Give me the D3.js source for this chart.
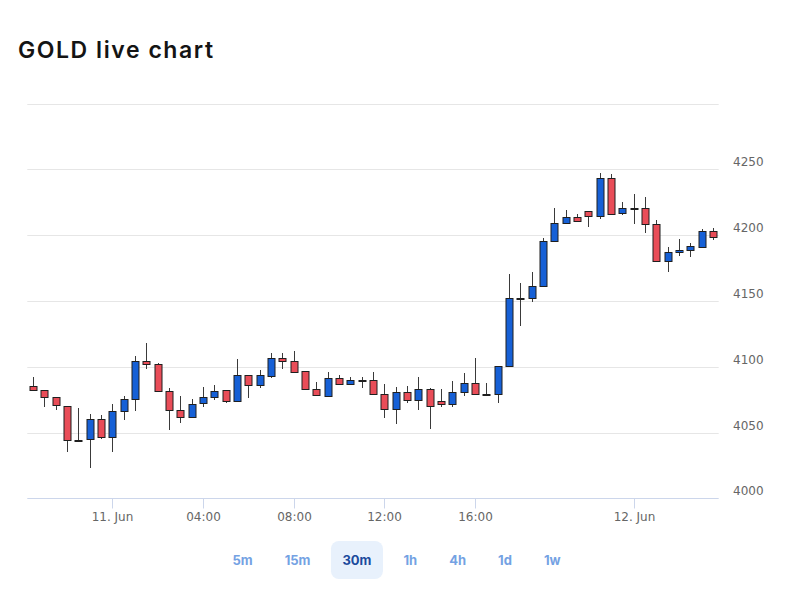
<!DOCTYPE html>
<html><head><meta charset="utf-8">
<script src="https://cdn.jsdelivr.net/npm/d3@7"></script>
<style>html,body{margin:0;padding:0;background:#fff;} svg{display:block}</style>
</head><body>
<svg id="chart" width="793" height="595"></svg>
<script>
const times = [
 "06-10 19:30","06-10 20:00","06-10 20:30","06-10 22:00","06-10 22:30","06-10 23:00","06-10 23:30",
 "06-11 00:00","06-11 00:30","06-11 01:00","06-11 01:30","06-11 02:00","06-11 02:30","06-11 03:00","06-11 03:30",
 "06-11 04:00","06-11 04:30","06-11 05:00","06-11 05:30","06-11 06:00","06-11 06:30","06-11 07:00","06-11 07:30",
 "06-11 08:00","06-11 08:30","06-11 09:00","06-11 09:30","06-11 10:00","06-11 10:30","06-11 11:00","06-11 11:30",
 "06-11 12:00","06-11 12:30","06-11 13:00","06-11 13:30","06-11 14:00","06-11 14:30","06-11 15:00","06-11 15:30",
 "06-11 16:00","06-11 16:30","06-11 17:00","06-11 17:30","06-11 18:00","06-11 18:30","06-11 19:00","06-11 19:30",
 "06-11 20:00","06-11 20:30","06-11 22:00","06-11 22:30","06-11 23:00","06-11 23:30",
 "06-12 00:00","06-12 00:30","06-12 01:00","06-12 01:30","06-12 02:00","06-12 02:30","06-12 03:00","06-12 03:30"
];
const opens = [4085,4082.3,4077,4070,4044.3,4045,4060.3,4046.6,4066.3,4075.5,
 4104.3,4102,4081.5,4067,4061.8,4072.4,4077,4082.3,4074,4093.7,
 4086.1,4093,4106.6,4104.3,4096.7,4083,4077.7,4091.4,4086.9,4089.9,
 4089.9,4079.3,4067.9,4080.8,4074.7,4083,4073.9,4071.7,4080.8,4087.6,
 4079.3,4079.3,4100.5,4152.2,4152.2,4161.3,4195.5,4209.2,4213.8,4218.3,
 4214.5,4243.4,4216.8,4220.6,4220.6,4208.4,4180.3,4187.2,4188.7,4191,
 4203.1];
const highs = [4092,4082.3,4077,4070,4068.6,4064,4063.3,4071.7,4077.7,4108,
 4118,4103,4083.8,4077.7,4075.5,4084.6,4086,4082.3,4105.9,4093.7,
 4097.6,4110.4,4110.4,4111.9,4096.7,4088.4,4095.8,4093.7,4092.2,4092.2,
 4095.8,4086.9,4084.6,4085.3,4092.2,4083.8,4083,4089.1,4095.1,4106.6,
 4087.6,4100.5,4170.4,4163.6,4172,4197.8,4220.6,4219.1,4216,4218.3,
 4247.2,4246.4,4225.2,4231.3,4229,4211.5,4191,4197.1,4194,4204.6,
 4205.3];
const lows = [4082,4069.4,4067,4035.2,4044.3,4023,4044.8,4035.2,4059.5,4066.3,
 4098,4081.5,4052,4057.2,4061.8,4069.4,4074.7,4072.4,4074,4076.2,
 4083.8,4091.4,4098.4,4095.8,4083,4078.5,4077.7,4086.9,4086.9,4083.8,
 4079.3,4061,4056.5,4072.4,4067,4052.7,4069.4,4069.4,4077.7,4079.3,
 4078.5,4072.4,4100.5,4131,4149.2,4161.3,4195.5,4209.2,4210,4206.2,
 4212.2,4215.3,4215.3,4208.4,4201.6,4180.3,4172,4184.2,4183.4,4191,
 4196.4];
const closes = [4082,4077,4071,4044.3,4044.3,4060.3,4046.6,4066.3,4075.5,4104.3,
 4102,4081.5,4067,4061.8,4071.7,4077,4081.5,4074,4093.7,4086.1,
 4093.7,4106.6,4104.3,4095.8,4083,4078.5,4091.4,4086.9,4089.9,4089.9,
 4079.3,4067.9,4080.8,4074.7,4083,4070.1,4071.7,4080.8,4087.6,4079.3,
 4079.3,4100.5,4152.2,4152.2,4161.3,4195.5,4209.2,4213.8,4210.7,4214.5,
 4243.4,4216,4220.6,4220.6,4208.4,4180.3,4187.2,4188.7,4191.7,4203.1,
 4198.6];
const yTicks = [4000,4050,4100,4150,4200,4250,4300];
const yTickLabels = ["4000","4050","4100","4150","4200","4250",""];
const xTickTimes = ["06-11 00:00","06-11 04:00","06-11 08:00","06-11 12:00","06-11 16:00","06-12 00:00"];
const xTickLabels = ["11. Jun","04:00","08:00","12:00","16:00","12. Jun"];
const ranges = ["5m","15m","30m","1h","4h","1d","1w"];
const selectedRange = "30m";
const title = "GOLD live chart";

const W = 793, H = 595;
const svg = d3.select("#chart");
svg.append("rect").attr("width", W).attr("height", H).attr("fill", "#fff");

svg.append("text").attr("x", 18).attr("y", 58).text(title)
  .attr("font-family", "Inter, 'Noto Sans', sans-serif").attr("font-weight", 600)
  .attr("font-size", 23).attr("textLength", 195).attr("lengthAdjust", "spacing")
  .attr("fill", "#141414");

const x = d3.scalePoint().domain(times).range([27.3, 718.7]).padding(0.5);
const y = d3.scaleLinear().domain([4000, 4250]).range([498.3, 169.3]);
const left = 27.3, right = 718.7;
const axisFont = "'DejaVu Sans', sans-serif";

// grid
const grid = svg.append("g");
yTicks.forEach((v, i) => {
  const yy = Math.round(y(v)) + 0.5;
  if (v !== 4000) {
    grid.append("line").attr("x1", left).attr("x2", right).attr("y1", yy).attr("y2", yy)
      .attr("stroke", "#e6e6e6").attr("stroke-width", 1);
  }
  if (yTickLabels[i]) {
    grid.append("text").attr("x", 733).attr("y", y(v) - 3).text(yTickLabels[i])
      .attr("font-family", axisFont).attr("font-size", 12).attr("fill", "#666");
  }
});

// x axis
const ax = svg.append("g");
const axY = Math.round(y(4000)) + 0.5;
ax.append("line").attr("x1", left).attr("x2", right).attr("y1", axY).attr("y2", axY)
  .attr("stroke", "#ccd6eb").attr("stroke-width", 1);
xTickTimes.forEach((t, i) => {
  const xx = Math.round(x(t)) + 0.5;
  ax.append("line").attr("x1", xx).attr("x2", xx).attr("y1", axY).attr("y2", axY + 10)
    .attr("stroke", "#ccd6eb");
  ax.append("text").attr("x", xx).attr("y", 521).attr("text-anchor", "middle")
    .text(xTickLabels[i]).attr("font-family", axisFont).attr("font-size", 12).attr("fill", "#666");
});

// candles
const cg = svg.append("g");
times.forEach((t, i) => {
  const o = opens[i], h = highs[i], l = lows[i], c = closes[i];
  const cx = Math.round(x(t)) + 0.5;
  cg.append("line").attr("x1", cx).attr("x2", cx)
    .attr("y1", Math.round(y(h))).attr("y2", Math.round(y(l)))
    .attr("stroke", "#3a3a3a").attr("stroke-width", 1);
  const top = Math.round(y(Math.max(o, c))) + 0.5;
  const bot = Math.round(y(Math.min(o, c))) + 0.5;
  const doji = Math.abs(o - c) < 0.05;
  const fill = doji ? "#1c1c1c" : (c > o ? "#1660d6" : "#e94d58");
  cg.append("rect").attr("x", cx - 3.5).attr("width", 7)
    .attr("y", top).attr("height", Math.max(bot - top, 1))
    .attr("fill", fill).attr("stroke", "#1f1f1f").attr("stroke-width", 1);
});

// range buttons
const bg = svg.append("g");
const btnFont = "Inter, 'Noto Sans', sans-serif";
const pad = 11.5, gap = 9;
const texts = ranges.map(r => bg.append("text").text(r)
  .attr("font-family", btnFont).attr("font-size", 13).attr("font-weight", 700)
  .attr("fill", r === selectedRange ? "#1b4a9c" : "#74a2e3")
  .attr("text-anchor", "middle").attr("y", 565));
const widths = texts.map(tx => tx.node().getComputedTextLength() + 2 * pad);
const total = d3.sum(widths) + gap * (widths.length - 1);
let cur = W / 2 - total / 2;
texts.forEach((tx, i) => {
  const cxb = cur + widths[i] / 2;
  tx.attr("x", cxb);
  if (ranges[i] === selectedRange) {
    bg.insert("rect", "text").attr("x", cur).attr("y", 541).attr("width", widths[i]).attr("height", 38)
      .attr("rx", 8).attr("fill", "#e8f1fc");
  }
  cur += widths[i] + gap;
});
</script>
</body></html>
